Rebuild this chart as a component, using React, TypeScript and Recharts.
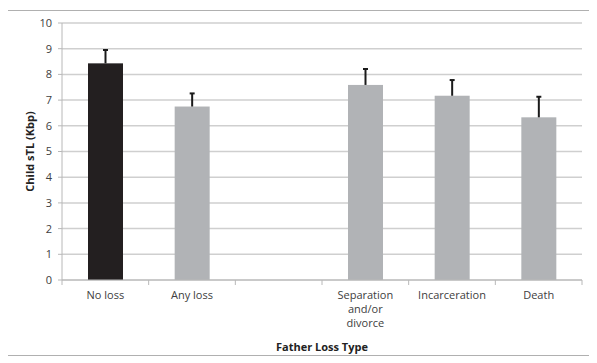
import React from "react";
import { BarChart, Bar, XAxis, YAxis, CartesianGrid, Cell, Text, Customized } from "recharts";

const categories = ["No loss", "Any loss", "", "Separation and/or divorce", "Incarceration", "Death"];
const means = [8.43, 6.75, null, 7.59, 7.17, 6.33];
const upperErrors = [0.52, 0.51, null, 0.62, 0.61, 0.8];
const barColors = ["#231f20", "#b1b3b6", "#b1b3b6", "#b1b3b6", "#b1b3b6", "#b1b3b6"];
const yTicks = [0, 1, 2, 3, 4, 5, 6, 7, 8, 9, 10];

const data = categories.map((name, i) => ({
  name,
  value: means[i],
  err: upperErrors[i],
}));

const FONT = "'Open Sans', 'Liberation Sans', sans-serif";
const AXIS_GRAY = "#b8b8b8";
const TEXT = "#404040";
const W = 588;
const H = 346;

const CategoryTick = (props: any) => {
  const { x, y, payload, index, visibleTicksCount } = props;
  const half = 520 / categories.length / 2;
  const count = visibleTicksCount ?? categories.length;
  return (
    <g>
      <line x1={x - half} x2={x - half} y1={y - 8} y2={y - 3} stroke={AXIS_GRAY} />
      {index === count - 1 && (
        <line x1={x + half} x2={x + half} y1={y - 8} y2={y - 3} stroke={AXIS_GRAY} />
      )}
      <Text
        x={x}
        y={y + 3}
        width={62}
        textAnchor="middle"
        verticalAnchor="start"
        lineHeight={14}
        style={{ fontSize: 11, fontFamily: FONT }}
        fill={TEXT}
      >
        {payload.value}
      </Text>
    </g>
  );
};

// bar + upper-only error whisker, scaled from the bar's own pixel height
const BarWithError = (props: any) => {
  const { x, y, width, height, fill, payload } = props;
  if (payload.value == null || !height) return null;
  const perUnit = height / payload.value;
  const top = y - payload.err * perUnit;
  const cx = x + width / 2;
  return (
    <g>
      <rect x={x} y={y} width={width} height={height} fill={fill} />
      <line x1={cx} x2={cx} y1={y} y2={top} stroke="#1a1a1a" strokeWidth={2} />
      <line x1={cx - 2.5} x2={cx + 2.5} y1={top} y2={top} stroke="#1a1a1a" strokeWidth={2} />
    </g>
  );
};

const Frame = () => (
  <rect x={0.5} y={0.5} width={W - 1} height={H - 1} fill="none" stroke="#b0b0b0" strokeWidth={1} />
);

export default function App() {
  return (
    <div style={{ width: W, height: H, marginLeft: -1, marginTop: 2 }}>
      <BarChart
        width={W}
        height={H}
        data={data}
        margin={{ top: 13, right: 13, bottom: 1, left: 1 }}
      >
        <Customized component={<Frame />} />
        <CartesianGrid vertical={false} stroke="#cfcfcf" strokeWidth={1.5} />
        <XAxis
          dataKey="name"
          height={75}
          interval={0}
          tickLine={false}
          axisLine={{ stroke: AXIS_GRAY }}
          tick={<CategoryTick />}
          label={{
            value: "Father Loss Type",
            position: "insideBottom",
            offset: 4,
            style: { fontSize: 11, fontWeight: "bold", fontFamily: FONT, fill: "#222" },
          }}
        />
        <YAxis
          width={54}
          domain={[0, 10]}
          ticks={yTicks}
          interval={0}
          tickSize={4}
          tickMargin={6}
          tickLine={{ stroke: AXIS_GRAY }}
          axisLine={{ stroke: AXIS_GRAY }}
          tick={{ fontSize: 11, fontFamily: FONT, fill: TEXT }}
          label={{
            value: "Child sTL (Kbp)",
            angle: -90,
            position: "insideLeft",
            offset: 22,
            textAnchor: "middle",
            style: { fontSize: 11, fontWeight: "bold", fontFamily: FONT, fill: "#222", textAnchor: "middle" },
          }}
        />
        <Bar dataKey="value" isAnimationActive={false} barSize={35} shape={<BarWithError />}>
          {data.map((d, i) => (
            <Cell key={d.name + i} fill={barColors[i]} />
          ))}
        </Bar>
      </BarChart>
    </div>
  );
}
